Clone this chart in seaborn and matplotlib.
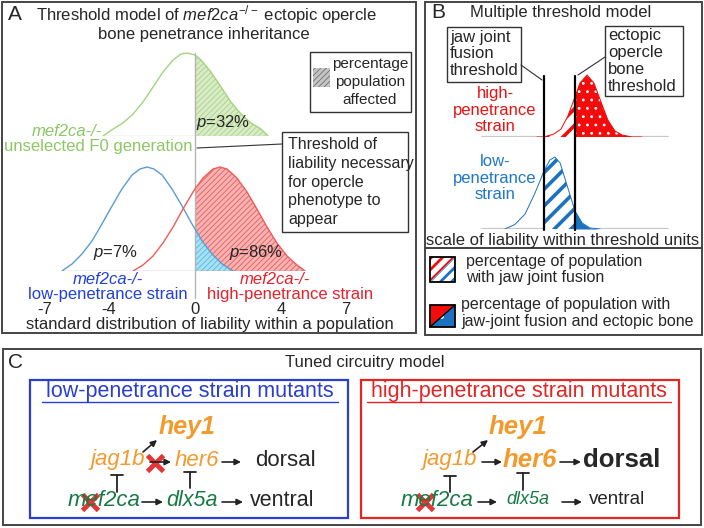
import matplotlib
matplotlib.use("Agg")
import matplotlib.pyplot as plt
import pandas as pd
import seaborn as sns
from matplotlib.patches import Rectangle, Polygon

# panel A: liability curves (x in liability units, y = relative frequency)
f0_x = [-4.28, -3.81, -3.35, -2.88, -2.42, -1.95, -1.49, -1.02, -0.65, -0.37, 0.00,
        0.28, 0.74, 1.21, 1.67, 2.14, 2.60, 3.07, 3.40]
f0_y = [0.00, 0.07, 0.13, 0.22, 0.34, 0.49, 0.64, 0.76, 0.82, 0.83, 0.81,
        0.76, 0.64, 0.49, 0.34, 0.22, 0.13, 0.07, 0.00]
low_x = [-6.19, -5.72, -5.26, -4.79, -4.33, -3.86, -3.40, -2.93, -2.56, -2.23, -1.91,
         -1.53, -1.07, -0.60, -0.14, 0.00, 0.33, 0.79, 1.26, 1.77]
low_y = [0.00, 0.07, 0.17, 0.30, 0.47, 0.65, 0.82, 0.96, 1.02, 1.04, 1.02,
         0.96, 0.82, 0.65, 0.47, 0.42, 0.30, 0.17, 0.07, 0.00]
high_x = [-2.88, -2.42, -1.95, -1.49, -1.02, -0.56, -0.09, 0.00, 0.37, 0.84, 1.16,
          1.49, 1.95, 2.42, 2.88, 3.35, 3.81, 4.28, 4.74, 5.12]
high_y = [0.00, 0.06, 0.15, 0.28, 0.44, 0.62, 0.79, 0.82, 0.93, 1.02, 1.04,
          1.02, 0.93, 0.79, 0.62, 0.44, 0.28, 0.15, 0.06, 0.00]
a_ticks = [-7, -4, 0, 4, 7]
a_threshold = 0

# panel B: threshold units (jaw joint threshold = 1, ectopic bone threshold = 2)
bh_x = [0.77, 1.00, 1.32, 1.55, 1.77, 2.00, 2.16, 2.39, 2.61, 2.84, 3.06, 3.29, 3.52, 3.84, 4.16]
bh_y = [0.00, 0.00, 0.03, 0.08, 0.21, 0.40, 0.54, 0.62, 0.54, 0.35, 0.17, 0.06, 0.02, 0.00, 0.00]
bl_x = [-0.26, 0.06, 0.39, 0.71, 1.00, 1.19, 1.35, 1.52, 1.71, 2.00, 2.23, 2.48, 2.81]
bl_y = [0.00, 0.045, 0.15, 0.36, 0.58, 0.69, 0.72, 0.66, 0.47, 0.18, 0.06, 0.01, 0.00]
b_jaw = 1.0
b_ectopic = 2.0
b_base = [-1, 5]

sns.set_style("white")
plt.rcParams['font.family'] = ['Liberation Sans', 'DejaVu Sans']
plt.rcParams['mathtext.fontset'] = 'custom'
plt.rcParams['mathtext.rm'] = 'Liberation Sans'
plt.rcParams['mathtext.it'] = 'Liberation Sans:italic'
plt.rcParams['mathtext.bf'] = 'Liberation Sans:bold'

GREEN, GREEN_T = '#a3d37f', '#8cc862'
BLUE_A, BLUE_T = '#5b9bd5', '#2240dd'
RED_A, RED_T = '#f05a5a', '#e8202a'
RED_B, BLUE_B = '#f20c0c', '#1a72c0'
ORANGE, DKGREEN = '#f39a2c', '#177a45'
BOXBLUE, BOXRED = '#2a3ecf', '#e52424'

W, H = 704, 528
fig = plt.figure(figsize=(7.04, 5.28), dpi=100)
# overlay axes in pixel units for boxes and text, drawn above the curve axes
bg = fig.add_axes([0, 0, 1, 1])
bg.set_xlim(0, W)
bg.set_ylim(H, 0)
bg.axis('off')
bg.patch.set_alpha(0)
bg.set_zorder(10)


def px_axes(x0, y0, x1, y1):
    ax = fig.add_axes([x0 / W, 1 - y1 / H, (x1 - x0) / W, (y1 - y0) / H])
    ax.patch.set_alpha(0)
    sns.despine(ax=ax, left=True, bottom=True)
    ax.set_yticks([])
    return ax


def hfill(ax, x, y, lo, hi, fc, hc, hatch, hlw):
    sub = [(a, b) for a, b in zip(x, y) if lo <= a <= hi]
    with plt.rc_context({'hatch.linewidth': hlw}):
        pc = ax.fill_between([s[0] for s in sub], 0, [s[1] for s in sub],
                             facecolor=fc, edgecolor=hc, hatch=hatch, linewidth=0, zorder=1)
        if hasattr(pc, 'set_hatch_linewidth'):
            pc.set_hatch_linewidth(hlw)
    return pc


def curve(ax, x, y, color, lw):
    df = pd.DataFrame({'x': x, 'y': y})
    sns.lineplot(data=df, x='x', y='y', ax=ax, color=color, lw=lw, sort=False,
                 estimator=None, zorder=3)
    ax.set(xlabel=None, ylabel=None)


def box(x0, y0, x1, y1, ec='#454545', lw=1.4):
    bg.add_patch(Rectangle((x0, y0), x1 - x0, y1 - y0, fill=False, ec=ec, lw=lw))


def txt(x, y, s, **kw):
    kw.setdefault('fontsize', 12)
    kw.setdefault('ha', 'center')
    kw.setdefault('va', 'center')
    bg.text(x, y, s, **kw)


def arrow(x0, y0, x1, y1):
    bg.annotate('', xy=(x1, y1), xytext=(x0, y0),
                arrowprops=dict(arrowstyle='-|>', color='#222222', lw=1.2,
                                mutation_scale=9, shrinkA=0, shrinkB=0))


def tbar(x, y0, y1):
    bg.plot([x, x], [y0, y1], color='#222222', lw=1.3)
    bg.plot([x - 6, x + 6], [y0, y0], color='#222222', lw=1.3)


def cross(x, y):
    bg.plot([x], [y], marker='x', ms=11, mew=3.5, color='#e53535', ls='none')


# ---------------- panel A ----------------
box(2, 2, 416, 333)
txt(8, 14, 'A', fontsize=15, ha='left')
txt(207, 15, r'Threshold model of $\mathit{mef2ca}^{-/-}$ ectopic opercle')
txt(204, 35, 'bone penetrance inheritance')

xl = ((20 - 195) / 21.5, (400 - 195) / 21.5)
axA1 = px_axes(20, 36, 400, 136)
axA1.set_xlim(xl)
axA1.set_ylim(0, 1.0)
hfill(axA1, f0_x, f0_y, a_threshold, 99, '#d9ecc6', '#a8d28a', '//////', 0.6)
curve(axA1, f0_x, f0_y, GREEN, 1.0)
axA1.plot([f0_x[0], f0_x[-1]], [0, 0], color='#c9dcbc', lw=1.0)
axA1.set_xticks([])

axA2 = px_axes(20, 161, 400, 271)
axA2.set_xlim(xl)
axA2.set_ylim(0, 1.1)
hfill(axA2, high_x, high_y, a_threshold, 99, '#f6b3b3', '#ec5b5b', '//////', 0.6)
hfill(axA2, low_x, low_y, a_threshold, 99, '#a9e1f4', '#4fb8e4', '//////', 0.6)
curve(axA2, low_x, low_y, BLUE_A, 1.0)
curve(axA2, high_x, high_y, RED_A, 1.0)
axA2.plot([low_x[0], high_x[0]], [0, 0], color='#9fb4d6', lw=1.0)
axA2.plot([high_x[0], high_x[-1]], [0, 0], color='#d98a9a', lw=1.0)
axA2.axvline(a_threshold, ymin=(271 - 298) / 110, ymax=(271 - 53) / 110,
             color='#b4b4b4', lw=1.0, clip_on=False, zorder=2)
axA2.set_xticks(a_ticks)
axA2.set_xticklabels([str(t) for t in a_ticks])
axA2.tick_params(axis='x', length=0, pad=22, labelsize=12)
axA2.set_xlabel('standard distribution of liability within a population',
                fontsize=12, labelpad=0)

txt(102, 131, 'mef2ca-/-', color=GREEN_T, style='italic', ha='right')
txt(98, 147, 'unselected F0 generation', color=GREEN_T)
txt(196, 122, '$p$=32%', ha='left')
txt(115, 252, '$p$=7%')
txt(256, 252, '$p$=86%')
txt(108, 280, 'mef2ca-/-', color=BLUE_T, style='italic')
txt(108, 294, 'low-penetrance strain', color=BLUE_T)
txt(275, 280, 'mef2ca-/-', color=RED_T, style='italic')
txt(290, 294, 'high-penetrance strain', color=RED_T)

box(310, 52, 411, 112, ec='#333333', lw=1.0)
with plt.rc_context({'hatch.linewidth': 0.6}):
    sw = Rectangle((313, 68), 17, 19, facecolor='#c4c4c4', edgecolor='#707070',
                   hatch='//////', lw=0)
    bg.add_patch(sw)
txt(370, 82, 'percentage\npopulation\naffected', fontsize=11, linespacing=1.35)

box(282, 132, 408, 232, ec='#333333', lw=1.0)
txt(288, 182, 'Threshold of\nliability necessary\nfor opercle\nphenotype to\nappear',
    fontsize=11.5, ha='left', linespacing=1.3)
bg.plot([197, 282], [148, 144], color='#333333', lw=0.8)

# ---------------- panel B ----------------
box(425, 2, 702, 248)
box(425, 248, 702, 335)
txt(431, 13, 'B', fontsize=15, ha='left')
txt(561, 13, 'Multiple threshold model')

box(447, 27, 521, 82, ec='#333333', lw=1.0)
txt(450, 54, 'jaw joint\nfusion\nthreshold', ha='left', linespacing=1.15)
box(605, 26, 683, 96, ec='#333333', lw=1.0)
txt(608, 61, 'ectopic\nopercle\nbone\nthreshold', ha='left', linespacing=1.15)
bg.plot([521, 542], [65, 80], color='#333333', lw=0.8)
bg.plot([605, 578], [57, 75], color='#333333', lw=0.8)

xb = ((430 - 513) / 31, (700 - 513) / 31)
axBh = px_axes(430, 60, 700, 137)
axBh.set_xlim(xb)
axBh.set_ylim(0, 0.77)
axBh.set_xticks([])
axBh.plot(b_base, [0, 0], color='#c8c8c8', lw=1.6, zorder=0)
hfill(axBh, bh_x, bh_y, b_jaw, b_ectopic, 'white', RED_B, '//', 2.6)
hfill(axBh, bh_x, bh_y, b_ectopic, 99, RED_B, 'white', '..', 0.8)
curve(axBh, bh_x, bh_y, RED_B, 0.7)

axBl = px_axes(430, 137, 700, 229)
axBl.set_xlim(xb)
axBl.set_ylim(0, 0.92)
axBl.set_xticks([])
axBl.plot(b_base, [0, 0], color='#c8c8c8', lw=1.6, zorder=0)
hfill(axBl, bl_x, bl_y, b_jaw, b_ectopic, 'white', BLUE_B, '//', 2.6)
hfill(axBl, bl_x, bl_y, b_ectopic, 99, BLUE_B, BLUE_B, None, 0.8)
curve(axBl, bl_x, bl_y, BLUE_B, 0.7)
for t in [b_jaw, b_ectopic]:
    axBl.axvline(t, ymin=(229 - 230) / 92, ymax=(229 - 76) / 92, color='black',
                 lw=1.6, clip_on=False, zorder=5)

txt(495, 110, 'high-\npenetrance\nstrain', color='#e81414', linespacing=1.15)
txt(495, 178, 'low-\npenetrance\nstrain', color='#1f78c8', linespacing=1.15)
txt(563, 240, 'scale of liability within threshold units')

# legend of panel B
with plt.rc_context({'hatch.linewidth': 2.0}):
    bg.add_patch(Polygon([(430, 257), (455, 257), (430, 282)], closed=True,
                         facecolor='white', edgecolor=RED_B, hatch='///', lw=0))
    bg.add_patch(Polygon([(455, 257), (455, 282), (430, 282)], closed=True,
                         facecolor='white', edgecolor=BLUE_B, hatch='///', lw=0))
bg.add_patch(Rectangle((430, 257), 25, 25, fill=False, ec='black', lw=1.3))
bg.add_patch(Polygon([(430, 305), (455, 305), (430, 327)], closed=True,
                     facecolor=RED_B, lw=0))
with plt.rc_context({'hatch.linewidth': 0.8}):
    bg.add_patch(Polygon([(455, 305), (455, 327), (430, 327)], closed=True,
                         facecolor=BLUE_B, edgecolor='white', hatch='.', lw=0))
bg.plot([430, 455], [327, 305], color='black', lw=1.0)
bg.add_patch(Rectangle((430, 305), 25, 22, fill=False, ec='black', lw=1.3))
txt(466, 269.5, 'percentage of population\nwith jaw joint fusion', ha='left',
    fontsize=11.5, linespacing=1.15)
txt(461, 313, 'percentage of population with\njaw-joint fusion and ectopic bone',
    ha='left', fontsize=11.5, linespacing=1.15)

# ---------------- panel C ----------------
box(3, 349, 701, 525)
txt(8, 363, 'C', fontsize=15, ha='left')
txt(365, 362, 'Tuned circuitry model')

box(30, 380, 348, 518, ec=BOXBLUE, lw=1.6)
txt(190, 392, 'low-penetrance strain mutants', color=BOXBLUE, fontsize=15.5)
bg.plot([42, 338], [402, 402], color=BOXBLUE, lw=1.0)
box(361, 380, 679, 518, ec=BOXRED, lw=1.6)
txt(519, 392, 'high-penetrance strain mutants', color=BOXRED, fontsize=15.5)
bg.plot([367, 671], [402, 402], color=BOXRED, lw=1.0)

# low-penetrance circuit
txt(187, 427, 'hey1', color=ORANGE, fontsize=18, weight='bold', style='italic')
txt(118, 460, 'jag1b', color=ORANGE, fontsize=16, style='italic')
txt(197, 460, 'her6', color=ORANGE, fontsize=16, style='italic')
txt(285, 460, 'dorsal', fontsize=16)
txt(104, 500, 'mef2ca', color=DKGREEN, fontsize=16, style='italic')
txt(192, 500, 'dlx5a', color=DKGREEN, fontsize=15.5, style='italic')
txt(282, 500, 'ventral', fontsize=15.5)
arrow(143, 452, 157, 440)
arrow(150, 462, 171, 462)
arrow(222, 462, 241, 462)
arrow(142, 502, 163, 502)
arrow(222, 502, 243, 502)
tbar(117, 475, 492)
tbar(190, 472, 488)
cross(155, 463)
cross(90, 502)

# high-penetrance circuit
txt(518, 427, 'hey1', color=ORANGE, fontsize=18.5, weight='bold', style='italic')
txt(450, 460, 'jag1b', color=ORANGE, fontsize=16, style='italic')
txt(530, 460, 'her6', color=ORANGE, fontsize=18.5, weight='bold', style='italic')
txt(622, 460, 'dorsal', fontsize=18.5, weight='bold')
txt(437, 500, 'mef2ca', color=DKGREEN, fontsize=16, style='italic')
txt(528, 500, 'dlx5a', color=DKGREEN, fontsize=13, style='italic')
txt(617, 500, 'ventral', fontsize=13.5)
arrow(473, 452, 488, 440)
arrow(482, 462, 502, 462)
arrow(560, 462, 581, 462)
arrow(478, 502, 497, 502)
arrow(562, 502, 582, 502)
tbar(450, 476, 492)
tbar(523, 473, 490)
cross(425, 502)

fig.savefig('out.png', dpi=100)
